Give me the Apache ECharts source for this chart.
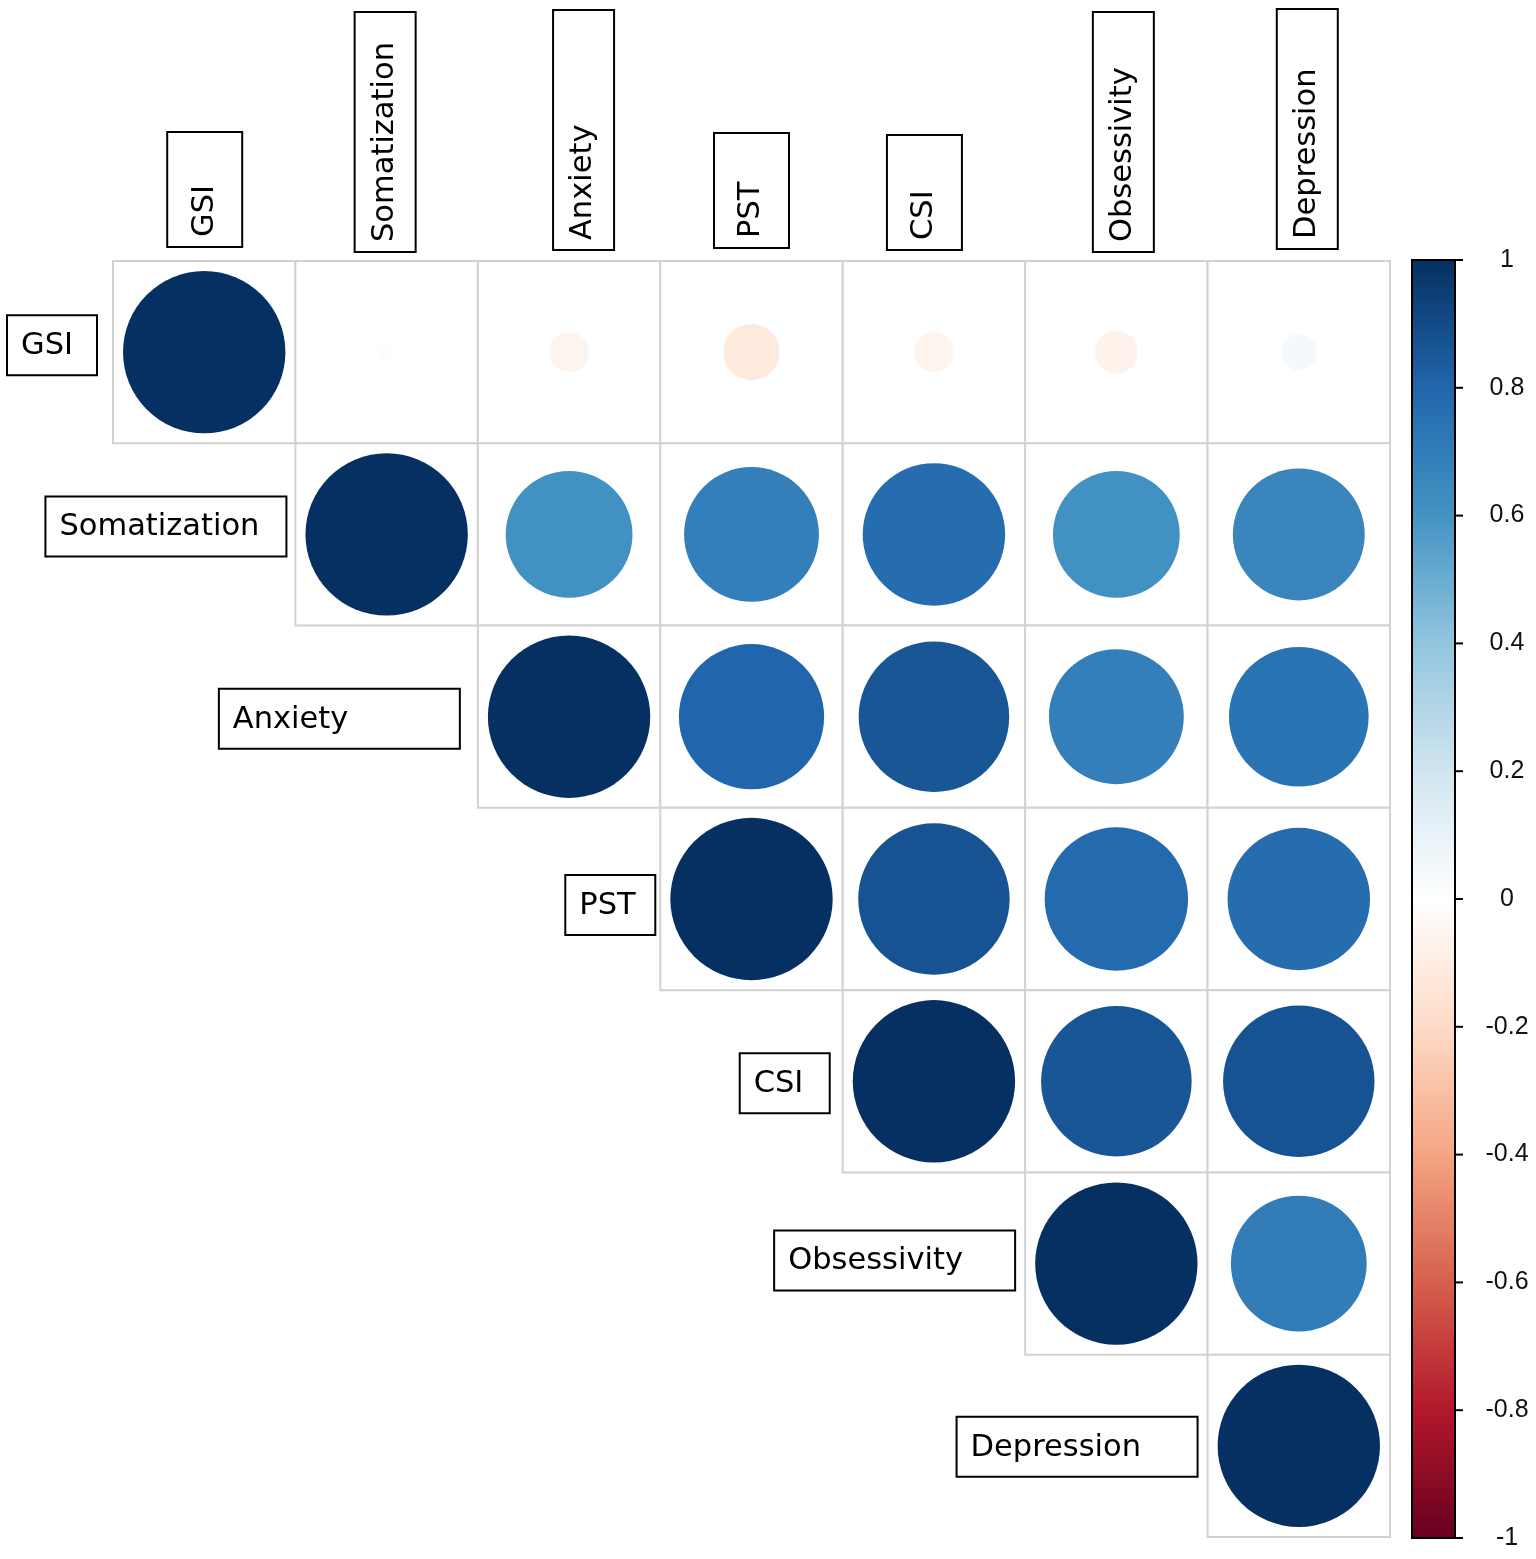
<!DOCTYPE html>
<html><head><meta charset="utf-8">
<script src="https://cdn.jsdelivr.net/npm/echarts@6/dist/echarts.min.js"></script>
<style>html,body{margin:0;padding:0;background:#fff}#c{width:1536px;height:1559px}</style>
</head><body><div id="c"></div>
<script>
// ---- data ----
const variables = ['GSI','Somatization','Anxiety','PST','CSI','Obsessivity','Depression'];
// upper-triangle correlations, each row starts on the diagonal
const corrGSI          = [1, -0.01, -0.06, -0.12, -0.06, -0.07, 0.05];
const corrSomatization = [1, 0.61, 0.69, 0.77, 0.61, 0.66];
const corrAnxiety      = [1, 0.80, 0.86, 0.69, 0.74];
const corrPST          = [1, 0.87, 0.78, 0.77];
const corrCSI          = [1, 0.86, 0.87];
const corrObsessivity  = [1, 0.70];
const corrDepression   = [1];
const colorbarTicks = [-1, -0.8, -0.6, -0.4, -0.2, 0, 0.2, 0.4, 0.6, 0.8, 1];

// ---- style / layout ----
const palette = ['#67001F','#B2182B','#D6604D','#F4A582','#FDDBC7','#FFFFFF','#D1E5F0','#92C5DE','#4393C3','#2166AC','#053061'];
const G = {left:113, top:261, width:1277, height:1276};
const CB = {left:1412, top:260, width:43, height:1278};
const cellW = G.width / variables.length;
const circleScale = cellW * 0.89;
const FONT = '30.5px "DejaVu Sans"';
const colShift = [0.5, -1.5, 14.5, 0, -9.5, 7, 8.5];
const colGap   = [14, 9, 11, 13, 11, 9, 12];
const rowGap   = [16, 9, 18, 5, 13, 10, 10];
const rowShift = [-7, -8, 2, 6, 2, -3, 1];

const rows = [corrGSI, corrSomatization, corrAnxiety, corrPST, corrCSI, corrObsessivity, corrDepression];
const circleData = [];
rows.forEach((r, i) => r.forEach((v, k) => circleData.push([i + k, i, v])));
const cellData = circleData.map(d => [d[0], d[1]]);
const labelData = variables.map((n, i) => [i, i]);
const cbMin = colorbarTicks[0], cbMax = colorbarTicks[colorbarTicks.length - 1];

const chart = echarts.init(document.getElementById('c'), null, {renderer:'canvas'});
chart.setOption({
  animation: false,
  backgroundColor: '#fff',
  grid: [
    {left:G.left, top:G.top, width:G.width, height:G.height, show:false},
    {left:CB.left, top:CB.top, width:CB.width, height:CB.height, show:true, borderColor:'#000', borderWidth:2, backgroundColor:'transparent', z:10}
  ],
  xAxis: [
    {type:'value', gridIndex:0, min:-0.5, max:6.5, show:false},
    {type:'value', gridIndex:1, min:0, max:1, show:false}
  ],
  yAxis: [
    {type:'value', gridIndex:0, min:-0.5, max:6.5, inverse:true, show:false},
    {type:'value', gridIndex:1, min:cbMin, max:cbMax, interval:0.2, position:'right', z:10,
     axisLine:{show:false}, splitLine:{show:false}, axisTick:{show:false},
     axisLabel:{margin:52, align:'center', fontSize:25, color:'#111', fontFamily:'"Liberation Sans", Arial, sans-serif',
       formatter: v => String(Math.round(v * 10) / 10)}}
  ],
  visualMap: {
    type:'continuous', min:cbMin, max:cbMax, seriesIndex:1, dimension:2,
    inRange:{color:palette}, left:CB.left, top:CB.top, itemWidth:CB.width, itemHeight:CB.height,
    padding:0, calculable:false, text:null, hoverLink:false
  },
  series: [
    {
      type:'custom', xAxisIndex:0, yAxisIndex:0, clip:false, silent:true,
      data: cellData,
      renderItem: (params, api) => {
        const p = api.coord([api.value(0) - 0.5, api.value(1) - 0.5]);
        const q = api.coord([api.value(0) + 0.5, api.value(1) + 0.5]);
        return {type:'rect', shape:{x:p[0], y:p[1], width:q[0]-p[0], height:q[1]-p[1]},
                style:{fill:'#fff', stroke:'#d2d2d2', lineWidth:2}};
      }
    },
    {
      type:'scatter', xAxisIndex:0, yAxisIndex:0, silent:true,
      data: circleData,
      symbol:'circle',
      symbolSize: val => circleScale * Math.sqrt(Math.abs(val[2])),
      itemStyle:{opacity:1}
    },
    {
      type:'custom', xAxisIndex:0, yAxisIndex:0, clip:false, silent:true,
      data: labelData,
      renderItem: (params, api) => {
        const idx = params.dataIndex, name = variables[idx];
        const p = api.coord([idx, -0.5]);
        const long = name.length > 3;
        const L = long ? 240 : 115, T = long ? 61 : 75;
        return {type:'group', x:p[0] + colShift[idx], y:p[1] - colGap[idx], rotation:Math.PI/2, children:[
          {type:'rect', shape:{x:0, y:-T/2, width:L, height:T}, style:{fill:'#fff', stroke:'#000', lineWidth:2}},
          {type:'text', x:10, y:0, style:{text:name, font:FONT, fill:'#000', align:'left', verticalAlign:'middle'}}
        ]};
      }
    },
    {
      type:'custom', xAxisIndex:0, yAxisIndex:0, clip:false, silent:true,
      data: labelData,
      renderItem: (params, api) => {
        const idx = params.dataIndex, name = variables[idx];
        const p = api.coord([idx - 0.5, idx]);
        const W = name.length > 3 ? 241 : 90, H = 60;
        return {type:'group', x:p[0] - rowGap[idx], y:p[1] + rowShift[idx], children:[
          {type:'rect', shape:{x:-W, y:-H/2, width:W, height:H}, style:{fill:'#fff', stroke:'#000', lineWidth:2}},
          {type:'text', x:-W + 14, y:1, style:{text:name, font:FONT, fill:'#000', align:'left', verticalAlign:'middle'}}
        ]};
      }
    },
    {
      type:'custom', xAxisIndex:1, yAxisIndex:1, clip:false, silent:true, z:12,
      data: colorbarTicks.map(v => [1, v]),
      renderItem: (params, api) => {
        const p = api.coord([api.value(0), api.value(1)]);
        return {type:'line', shape:{x1:p[0], y1:p[1], x2:p[0] + 8, y2:p[1]}, style:{stroke:'#000', lineWidth:2}};
      }
    }
  ]
});
</script></body></html>
